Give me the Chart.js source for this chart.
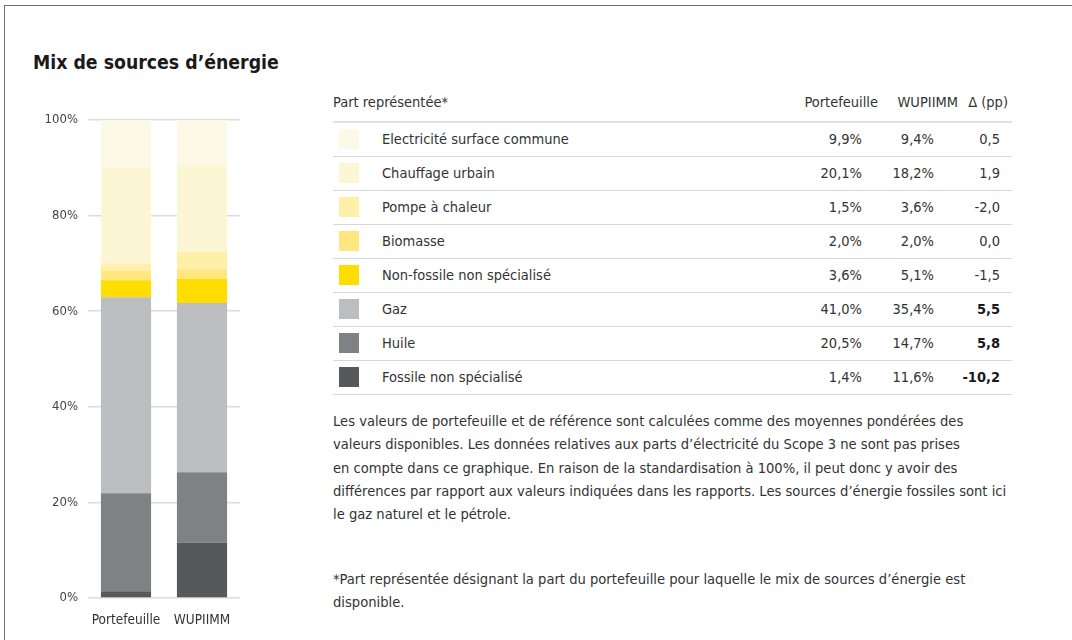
<!DOCTYPE html>
<html lang="fr">
<head>
<meta charset="utf-8">
<script src="https://cdn.jsdelivr.net/npm/chart.js@4.4.1/dist/chart.umd.min.js"></script>
<style>
  html, body { margin: 0; padding: 0; background: #fff; overflow: hidden; }
  body { width: 1072px; height: 640px; position: relative;
         font-family: "DejaVu Sans Condensed", sans-serif; color: #333; }
  .card { position: absolute; left: 4px; top: 5px; width: 1120px; height: 700px;
          border: 1px solid #707070; box-sizing: border-box; }
  h2 { position: absolute; left: 33px; top: 51px; margin: 0; font-size: 19.3px;
       font-weight: bold; color: #1a1a1a; }
  .chartBox { position: absolute; left: 0; top: 0; width: 300px; height: 640px; }
  table { position: absolute; left: 333px; top: 89px; width: 679px; border-collapse: collapse;
          font-size: 14.5px; color: #333; }
  th { font-weight: normal; height: 33px; text-align: right; padding: 5px 0 0 0; vertical-align: top;
       border-bottom: 2px solid #e2e2e2; box-sizing: border-box; }
  th.lbl { text-align: left; }
  td { height: 34px; padding: 0; border-bottom: 1px solid #d8d8d8; vertical-align: middle; text-align: right;
       box-sizing: border-box; }
  td.sw { width: 49px; text-align: left; }
  td.sw span { display: inline-block; width: 20px; height: 20px; margin-left: 6px; vertical-align: middle; }
  td.lbl { text-align: left; }
  .b { font-weight: bold; color: #1a1a1a; }
  .note { position: absolute; left: 333px; top: 409px; font-size: 14.6px; line-height: 23.3px;
          color: #333; white-space: nowrap; margin: 0; }
  .foot { top: 567px; }
</style>
</head>
<body>
<div class="card"></div>
<h2>Mix de sources d’énergie</h2>
<div class="chartBox"><canvas id="mixChart"></canvas></div>
<table id="mixTable">
  <thead>
    <tr><th class="lbl" colspan="2">Part représentée*</th>
        <th style="width:84px">Portefeuille</th><th style="width:80px">WUPIIMM</th><th style="width:54px;padding-right:4px">Δ (pp)</th></tr>
  </thead>
  <tbody></tbody>
</table>
<p class="note">Les valeurs de portefeuille et de référence sont calculées comme des moyennes pondérées des<br>valeurs disponibles. Les données relatives aux parts d’électricité du Scope 3 ne sont pas prises<br>en compte dans ce graphique. En raison de la standardisation à 100%, il peut donc y avoir des<br>différences par rapport aux valeurs indiquées dans les rapports. Les sources d’énergie fossiles sont ici<br>le gaz naturel et le pétrole.</p>
<p class="note foot">*Part représentée désignant la part du portefeuille pour laquelle le mix de sources d’énergie est<br>disponible.</p>

<script>
// Energy sources, listed top of the stack first (same order as the table)
const sources = ['Electricité surface commune', 'Chauffage urbain', 'Pompe à chaleur', 'Biomasse',
                 'Non-fossile non spécialisé', 'Gaz', 'Huile', 'Fossile non spécialisé'];
const colours = ['#fcf9e7', '#fcf6d5', '#feefa9', '#ffe681', '#ffdd00', '#bcbdc1', '#808185', '#57585a'];
const bars = ['Portefeuille', 'WUPIIMM'];
const portefeuille = [9.9, 20.1, 1.5, 2.0, 3.6, 41.0, 20.5, 1.4];
const wupiimm = [9.4, 18.2, 3.6, 2.0, 5.1, 35.4, 14.7, 11.6];
const delta = [0.5, 1.9, -2.0, 0.0, -1.5, 5.5, 5.8, -10.2];
const deltaBold = [false, false, false, false, false, true, true, true];
const yTicks = [0, 20, 40, 60, 80, 100];

const fmt = v => v.toFixed(1).replace('.', ',');

// table
const tbody = document.querySelector('#mixTable tbody');
sources.forEach((s, i) => {
    const tr = document.createElement('tr');
    tr.innerHTML = `<td class="sw"><span style="background:${colours[i]}"></span></td>` +
        `<td class="lbl">${s}</td>` +
        `<td style="padding-right:16px">${fmt(portefeuille[i])}%</td>` +
        `<td style="padding-right:24px">${fmt(wupiimm[i])}%</td>` +
        `<td style="padding-right:12px" class="${deltaBold[i] ? 'b' : ''}">${fmt(delta[i])}</td>`;
    tbody.appendChild(tr);
});

// stacked bars: first dataset sits at the bottom, so reverse
const datasets = sources.map((s, i) => ({
    label: s,
    data: [portefeuille[i], wupiimm[i]],
    backgroundColor: colours[i],
    borderWidth: 0,
    barPercentage: 1,
    categoryPercentage: 0.66
})).reverse();

const family = '"DejaVu Sans Condensed", sans-serif';

new Chart(document.getElementById('mixChart'), {
    type: 'bar',
    data: { labels: bars, datasets: datasets },
    options: {
        responsive: true,
        maintainAspectRatio: false,
        animation: false,
        layout: { padding: { left: 30, right: 60, top: 120, bottom: 2 } },
        plugins: { legend: { display: false }, tooltip: { enabled: false } },
        scales: {
            x: {
                stacked: true,
                grid: { display: false, drawTicks: false },
                border: { display: false },
                ticks: { color: '#333', font: { family: family, size: 13.5 }, padding: 14,
                         maxRotation: 0, minRotation: 0, autoSkip: false },
                afterFit: s => { s.height = 40; }
            },
            y: {
                stacked: true,
                min: 0, max: 100,
                afterBuildTicks: s => { s.ticks = yTicks.map(v => ({ value: v })); },
                grid: { color: '#dcdcdc', lineWidth: 1.5, drawTicks: false },
                border: { display: false },
                ticks: { color: '#444', font: { family: family, size: 13 }, padding: 10,
                         callback: v => v + '%' },
                afterFit: s => { s.width = 58; }
            }
        }
    }
});
</script>
</body>
</html>
